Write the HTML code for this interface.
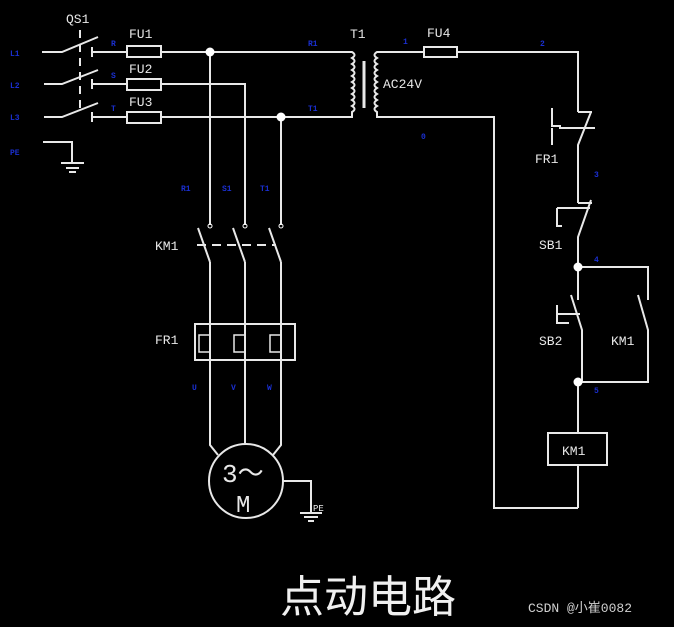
<!DOCTYPE html>
<html><head><meta charset="utf-8"><style>
html,body{margin:0;padding:0;background:#000;}
svg{display:block}
text{font-family:"Liberation Mono",monospace;fill:#e8e8e8}
.b{fill:#1a2fd0;font-size:8px;font-weight:bold}
</style></head><body>
<svg width="674" height="627" viewBox="0 0 674 627" xmlns="http://www.w3.org/2000/svg">
<rect width="674" height="627" fill="#000"/>
<g stroke="#e8e8e8" stroke-width="2" fill="none">
<!-- QS1 -->
<line x1="80" y1="30" x2="80" y2="110" stroke-dasharray="8,6"/>
<path d="M42 52H62L98 37M92 47V57M92 52H127"/>
<path d="M44 84H62L98 70M92 79V89M92 84H127"/>
<path d="M44 117H62L98 103M92 112V122M92 117H127"/>
<rect x="127" y="46" width="34" height="11"/>
<rect x="127" y="79" width="34" height="11"/>
<rect x="127" y="112" width="34" height="11"/>
<path d="M161 52H352M161 84H245V225M161 117H352M210 52V225M281 117V225"/>
<!-- PE left -->
<path d="M43 142H72V163M61 163H84M66 168H79M69 172H76"/>
<!-- KM1 main -->
<path d="M198 228L210 262M233 228L245 262M269 228L281 262"/>
<line x1="197" y1="245" x2="276" y2="245" stroke-dasharray="9,6"/>
<path d="M210 262V445L218 455M245 262V445M281 262V445L273 455"/>
<rect x="195" y="324" width="100" height="36"/>
<path d="M210 335H199V352H210M245 335H234V352H245M281 335H270V352H281" stroke-width="1.5"/>
<circle cx="246" cy="481" r="37"/>
<path d="M283 481H311V513M300 513H322M304 517H318M308 521H314"/>
<!-- transformer -->
<path d="M340 52H352 q5 3 0 6 q5 3 0 6 q5 3 0 6 q5 3 0 6 q5 3 0 6 q5 3 0 6 q5 3 0 6 q5 3 0 6 q5 3 0 6 q5 3 0 6 V117H340"/>
<line x1="364" y1="61" x2="364" y2="108" stroke-width="3"/>
<path d="M387 52H377 q-5 3 0 6 q-5 3 0 6 q-5 3 0 6 q-5 3 0 6 q-5 3 0 6 q-5 3 0 6 q-5 3 0 6 q-5 3 0 6 q-5 3 0 6 q-5 3 0 6 V117H494V508H578"/>
<path d="M377 52H424M457 52H578V112"/>
<rect x="424" y="47" width="33" height="10"/>
<!-- FR1 NC -->
<path d="M578 112H592M591 112L578 145V203M552 108V126H560V128H595M552 128V145" />
<!-- SB1 -->
<path d="M578 203H592M591 200L578 237V267M557 208H590M557 208V226H562"/>
<path d="M578 267H648V300M578 267V300M571 295L582 330V382M557 305V323H569M557 314H580"/>
<path d="M638 295L648 330V382H578V433"/>
<rect x="548" y="433" width="59" height="32"/>
<path d="M578 465V508"/>
</g>
<g fill="#fff"><circle cx="210" cy="52" r="4.5"/><circle cx="281" cy="117" r="4.5"/><circle cx="578" cy="267" r="4.5"/><circle cx="578" cy="382" r="4.5"/></g>
<g fill="#fff"><circle cx="210" cy="226" r="2" fill="none" stroke="#fff"/><circle cx="245" cy="226" r="2" fill="none" stroke="#fff"/><circle cx="281" cy="226" r="2" fill="none" stroke="#fff"/></g>
<text x="66" y="23" font-size="13">QS1</text>
<text x="129" y="38" font-size="13">FU1</text>
<text x="129" y="73" font-size="13">FU2</text>
<text x="129" y="106" font-size="13">FU3</text>
<text x="350" y="38" font-size="13">T1</text>
<text x="427" y="37" font-size="13">FU4</text>
<text x="383" y="88" font-size="13">AC24V</text>
<text x="535" y="163" font-size="13">FR1</text>
<text x="539" y="249" font-size="13">SB1</text>
<text x="539" y="345" font-size="13">SB2</text>
<text x="611" y="345" font-size="13">KM1</text>
<text x="562" y="455" font-size="13">KM1</text>
<text x="155" y="250" font-size="13">KM1</text>
<text x="155" y="344" font-size="13">FR1</text>
<text x="313" y="511" font-size="9">PE</text>
<text x="222" y="482" font-size="26" font-family="Liberation Serif">3～</text>
<text x="236" y="512" font-size="24" font-family="Liberation Serif">M</text>
<text class="b" x="10" y="56">L1</text><text class="b" x="10" y="88">L2</text><text class="b" x="10" y="120">L3</text><text class="b" x="10" y="155">PE</text>
<text class="b" x="111" y="46">R</text><text class="b" x="111" y="78">S</text><text class="b" x="111" y="111">T</text>
<text class="b" x="308" y="46">R1</text><text class="b" x="308" y="111">T1</text>
<text class="b" x="181" y="191">R1</text><text class="b" x="222" y="191">S1</text><text class="b" x="260" y="191">T1</text>
<text class="b" x="192" y="390">U</text><text class="b" x="231" y="390">V</text><text class="b" x="267" y="390">W</text>
<text class="b" x="403" y="44">1</text><text class="b" x="540" y="46">2</text><text class="b" x="421" y="139">0</text>
<text class="b" x="594" y="177">3</text><text class="b" x="594" y="262">4</text><text class="b" x="594" y="393">5</text>
<text x="280" y="612" font-size="44" font-family="'Noto Sans CJK SC',sans-serif" style="fill:#f0f0f0">点动电路</text>
<text x="528" y="612" font-size="13" font-family="'Liberation Sans','Noto Sans CJK SC',sans-serif" style="fill:#d0d0d0">CSDN @小崔0082</text>
</svg>
</body></html>
